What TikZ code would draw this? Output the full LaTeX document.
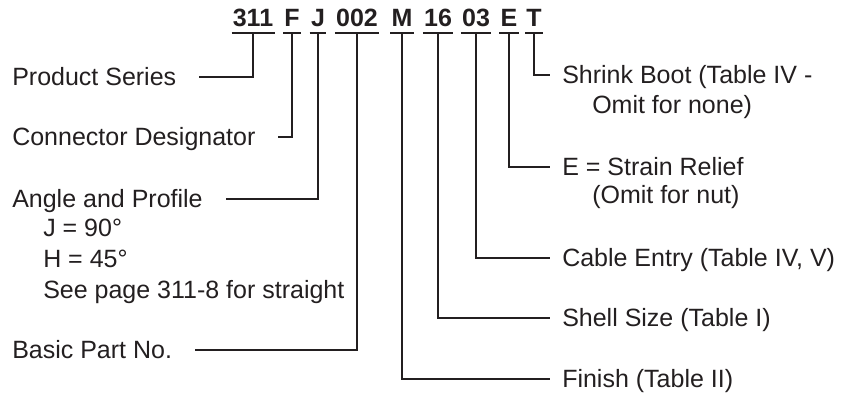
\documentclass[tikz,border=0pt]{standalone}
\usepackage{fontspec}
\setmainfont{Liberation Sans}
\definecolor{ink}{HTML}{231F20}
\tikzset{
  code/.style={font=\fontsize{18.75}{22}\selectfont\bfseries, text=ink, anchor=base,
    inner xsep=0.8pt, inner ysep=5.25pt, text height=13pt, text depth=0pt},
  lbl/.style={font=\fontsize{18.75}{22}\selectfont, text=ink, anchor=base west,
    inner sep=0pt, text height=12pt, text depth=0pt},
  lead/.style={draw=ink, line width=1.5pt},
  leftlead/.style={lead, shorten >=17pt},
  rightlead/.style={lead, shorten >=9pt}
}

\begin{document}
\begin{tikzpicture}[x=0.75pt,y=-0.75pt]
  \useasboundingbox (0,0) rectangle (843,394);

  % part number
  \node[code] (c311) at (253,26) {311};
  \node[code] (cF)   at (292,26) {F};
  \node[code] (cJ)   at (318,26) {J};
  \node[code] (c002) at (357,26) {002};
  \node[code] (cM)   at (402,26) {M};
  \node[code] (c16)  at (438,26) {16};
  \node[code] (c03)  at (476,26) {03};
  \node[code] (cE)   at (509,26) {E};
  \node[code] (cT)   at (534,26) {T};
  \foreach \n in {c311,cF,cJ,c002,cM,c16,c03,cE,cT}
    \draw[lead] (\n.south west) -- (\n.south east);

  % left side
  \node[lbl] (series)     at (12,85)  {Product Series};
  \node[lbl] (designator) at (12,145) {Connector Designator};
  \node[lbl] (angle)      at (12,207) {Angle and Profile};
  \node[lbl] (angleJ)     at (43,236) {J = 90°};
  \node[lbl] (angleH)     at (43,267) {H = 45°};
  \node[lbl] (angleSee)   at (43,298) {See page 311-8 for straight};
  \node[lbl] (partno)     at (12,358) {Basic Part No.};

  % right side
  \node[lbl] (boot)      at (562,83)  {Shrink Boot (Table IV -};
  \node[lbl] (bootB)     at (592,113) {Omit for none)};
  \node[lbl] (relief)    at (562,175) {E = Strain Relief};
  \node[lbl] (reliefB)   at (592,203) {(Omit for nut)};
  \node[lbl] (entry)     at (562,266) {Cable Entry (Table IV, V)};
  \node[lbl] (shellsize) at (562,326) {Shell Size (Table I)};
  \node[lbl] (finish)    at (562,387) {Finish (Table II)};

  % leaders
  \draw[leftlead] (c311.south) |- (series.east);
  \draw[leftlead] (cF.south) |- (designator.east);
  \draw[leftlead] (cJ.south) |- (angle.east);
  \draw[leftlead] (c002.south) |- (partno.east);
  \draw[rightlead] (cM.south) |- (finish.west);
  \draw[rightlead] (c16.south) |- (shellsize.west);
  \draw[rightlead] (c03.south) |- (entry.west);
  \draw[rightlead] (cE.south) |- (relief.west);
  \draw[rightlead] (cT.south) |- (boot.west);
\end{tikzpicture}
\end{document}
